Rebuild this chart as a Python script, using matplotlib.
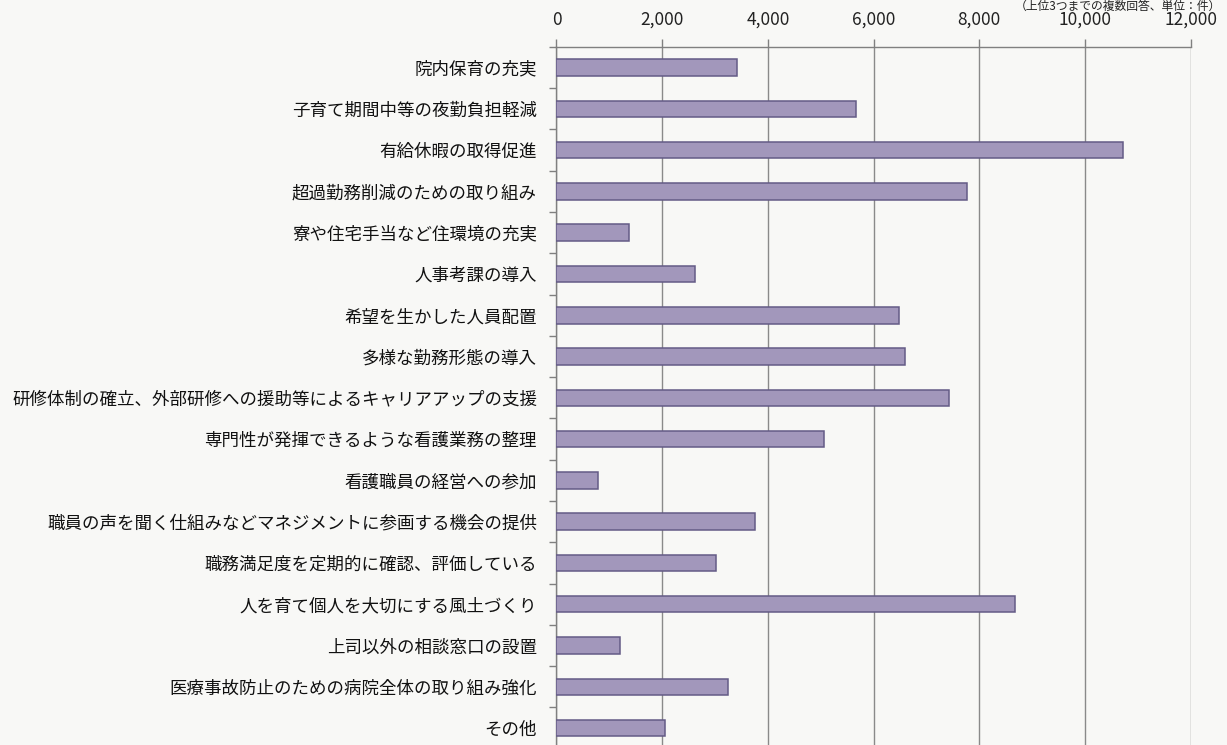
import matplotlib
matplotlib.use("Agg")
import matplotlib.pyplot as plt
from matplotlib.ticker import FixedLocator, FuncFormatter

plt.rcParams['font.family'] = ['Noto Sans CJK JP', 'DejaVu Sans']

categories = [
    "院内保育の充実",
    "子育て期間中等の夜勤負担軽減",
    "有給休暇の取得促進",
    "超過勤務削減のための取り組み",
    "寮や住宅手当など住環境の充実",
    "人事考課の導入",
    "希望を生かした人員配置",
    "多様な勤務形態の導入",
    "研修体制の確立、外部研修への援助等によるキャリアアップの支援",
    "専門性が発揮できるような看護業務の整理",
    "看護職員の経営への参加",
    "職員の声を聞く仕組みなどマネジメントに参画する機会の提供",
    "職務満足度を定期的に確認、評価している",
    "人を育て個人を大切にする風土づくり",
    "上司以外の相談窓口の設置",
    "医療事故防止のための病院全体の取り組み強化",
    "その他",
]
values = [3410, 5660, 10720, 7760, 1380, 2630, 6480, 6590, 7430, 5060,
          790, 3750, 3010, 8670, 1210, 3240, 2050]
x_ticks = [0, 2000, 4000, 6000, 8000, 10000, 12000]
caption = "（上位3つまでの複数回答、単位：件）"

bg = "#f8f8f6"
fig = plt.figure(figsize=(12.27, 7.45), dpi=100, facecolor=bg)
ax = fig.add_axes([0.4535, -0.005, 0.517, 0.942])
ax.set_facecolor(bg)

n = len(categories)
pos = list(range(n))
ax.barh(pos, values, height=0.40, color="#a297bb", edgecolor="#645b86", linewidth=1.1, zorder=3)

ax.set_xlim(0, 12000)
ax.set_ylim(n - 0.5, -0.5)
ax.xaxis.tick_top()
ax.xaxis.set_major_locator(FixedLocator(x_ticks))
ax.xaxis.set_major_formatter(FuncFormatter(lambda v, p: f"{int(v):,}"))
ax.tick_params(axis='x', which='major', length=6, width=1, color="#808080",
               labelsize=12.5, pad=7, labelcolor="#222222", direction='out')
ax.grid(axis='x', color="#8a8a8a", linewidth=1.0, zorder=1)

ax.set_yticks(pos)
ax.set_yticklabels(categories, fontsize=12.6, color="#111111")
ax.set_yticks([p + 0.5 for p in pos[:-1]] + [-0.5], minor=True)
ax.tick_params(axis='y', which='major', length=0, pad=14)
ax.tick_params(axis='y', which='minor', length=5, width=1, color="#808080", direction='out')

for s in ['right', 'bottom']:
    ax.spines[s].set_visible(False)
ax.spines['top'].set_color("#808080")
ax.spines['left'].set_color("#808080")
ax.spines['top'].set_linewidth(1.0)
ax.spines['left'].set_linewidth(1.0)

fig.text(0.995, 1.0, caption, fontsize=8.5, ha='right', va='top', color="#222222")

fig.savefig("out.png", dpi=100, facecolor=bg)
